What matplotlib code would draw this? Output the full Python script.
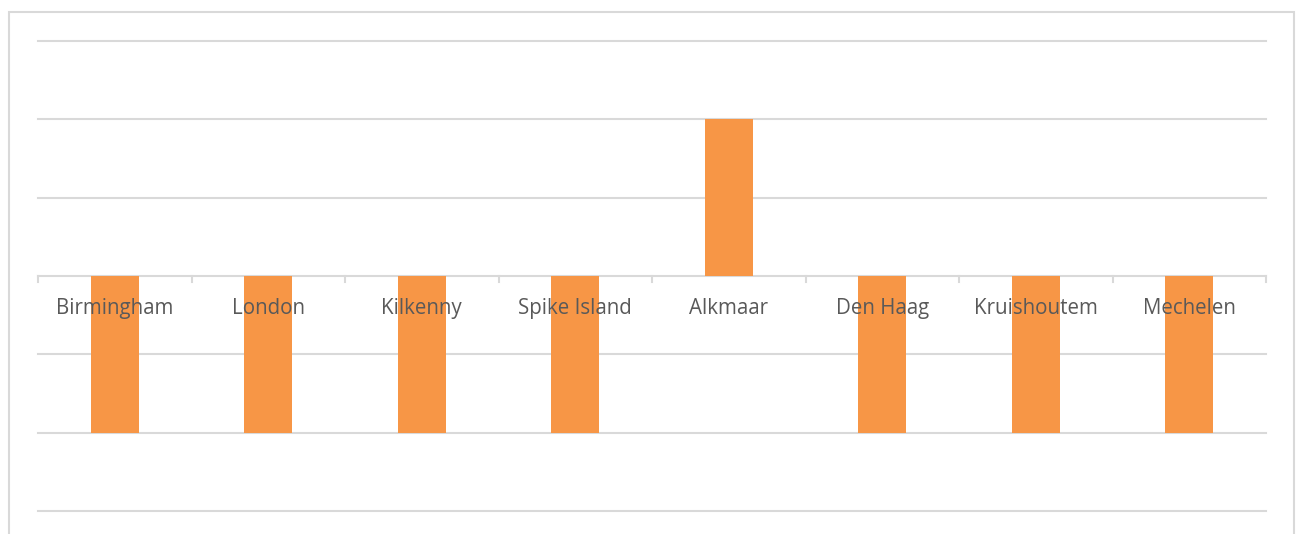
import matplotlib
matplotlib.use("Agg")
import matplotlib.pyplot as plt
from matplotlib.patches import Rectangle

categories = ["Birmingham", "London", "Kilkenny", "Spike Island", "Alkmaar",
              "Den Haag", "Kruishoutem", "Mechelen"]
values = [-2, -2, -2, -2, 2, -2, -2, -2]
y_ticks = [-3, -2, -1, 0, 1, 2, 3]

W, H = 1296, 534
fig = plt.figure(figsize=(W / 100, H / 100), dpi=100)
fig.patch.set_facecolor("white")

# outer chart border (bottom cut off)
fig.add_artist(Rectangle((9 / W, -0.05), (1294 - 9) / W, 1.05 - 12 / H,
                         transform=fig.transFigure, fill=False,
                         edgecolor="#D9D9D9", linewidth=1.5))

ax = fig.add_axes([38 / W, 1 - 511 / H, (1266 - 38) / W, (511 - 41) / H])
n = len(categories)
x = list(range(n))
ax.bar(x, values, width=0.31, color="#F79646", zorder=3)

ax.set_xlim(-0.5, n - 0.5)
ax.set_ylim(-3, 3)
ax.set_yticks(y_ticks)
for yv in y_ticks:
    ax.axhline(yv, color="#D9D9D9", linewidth=1.5, zorder=1, clip_on=False)

# category boundary tick marks below the zero axis
for b in [i - 0.5 for i in range(n + 1)]:
    ax.plot([b, b], [0, -0.075], color="#D9D9D9", linewidth=1.5, zorder=2,
            clip_on=False)

for i, c in enumerate(categories):
    ax.annotate(c, xy=(i, 0), xytext=(0, -38), textcoords="offset pixels",
                ha="center", va="baseline", fontsize=14.8, color="#595959",
                family="Open Sans", zorder=4)

ax.set_xticks([])
ax.tick_params(left=False, labelleft=False)
for s in ax.spines.values():
    s.set_visible(False)

fig.savefig("out.png", dpi=100)
